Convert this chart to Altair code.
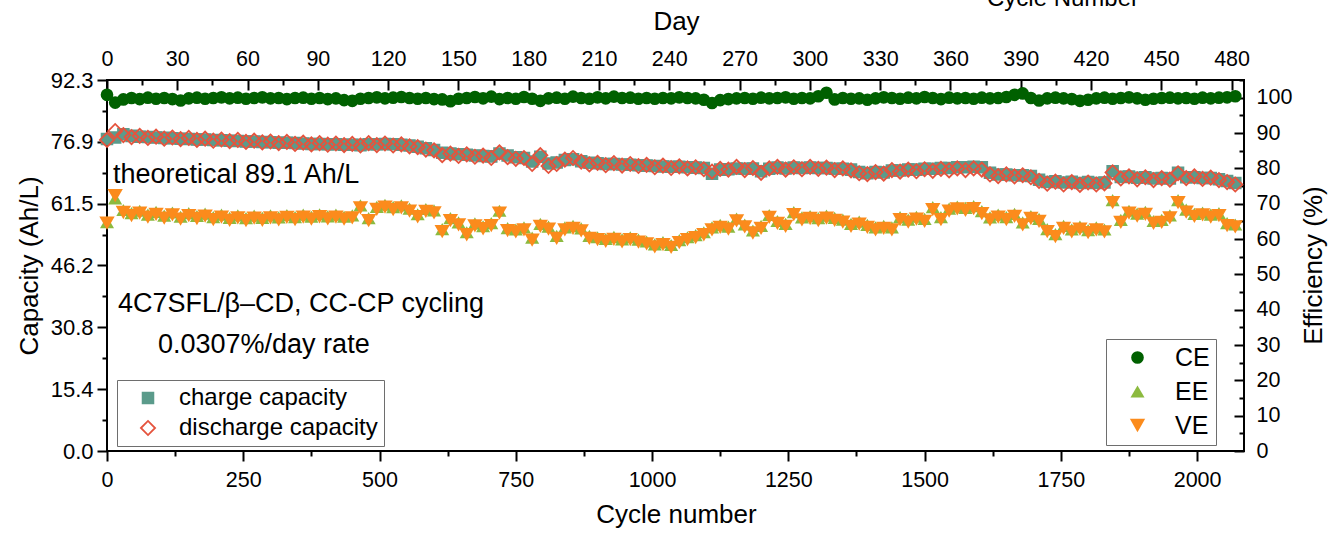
import altair as alt
import pandas as pd

# ---------------- data ----------------
cycles = list(range(0, 2081, 15))

charge_capacity = [
    77.6, 78.0, 78.8, 78.4, 78.2, 78.1, 78.0, 77.9, 77.8, 77.7,
    77.6, 77.5, 77.5, 77.4, 77.3, 77.2, 77.1, 77.0, 77.0, 76.9,
    76.8, 76.7, 76.7, 76.6, 76.5, 76.4, 76.4, 76.3, 76.3, 76.2,
    76.2, 76.1, 76.3, 76.3, 76.4, 76.3, 76.2, 76.0, 75.7, 75.3,
    74.9, 74.2, 74.0, 73.8, 73.7, 73.5, 73.4, 73.3, 74.0, 73.5,
    73.1, 72.9, 72.0, 73.2, 71.5, 71.8, 72.4, 72.6, 72.1, 71.7,
    71.6, 71.4, 71.4, 71.3, 71.2, 71.1, 71.0, 70.9, 70.8, 70.7,
    70.7, 70.6, 70.5, 70.4, 69.0, 70.0, 70.1, 70.3, 70.2, 70.3,
    69.6, 70.2, 70.5, 70.3, 70.5, 70.4, 70.5, 70.4, 70.4, 70.2,
    70.2, 70.0, 69.4, 69.1, 69.4, 69.3, 69.8, 69.8, 70.0, 70.0,
    70.2, 70.2, 70.4, 70.4, 70.6, 70.6, 70.7, 70.6, 69.2, 68.8,
    68.8, 68.6, 68.6, 68.4, 67.5, 66.9, 67.1, 66.8, 67.0, 66.7,
    66.9, 66.7, 66.8, 69.6, 68.2, 68.3, 68.0, 68.1, 67.8, 67.9,
    67.8, 69.2, 68.1, 68.1, 67.9, 67.9, 67.6, 67.2, 66.7]

discharge_capacity = [
    77.4, 79.6, 78.6, 78.1, 78.4, 77.9, 78.2, 77.7, 78.0, 77.6,
    77.9, 77.4, 77.7, 77.2, 77.5, 77.1, 77.4, 76.9, 77.2, 76.8,
    77.0, 76.6, 76.9, 76.4, 76.7, 76.3, 76.6, 76.2, 76.5, 76.1,
    76.4, 76.0, 76.6, 76.1, 76.5, 76.0, 76.3, 75.8, 75.6, 75.0,
    74.8, 73.6, 74.0, 73.4, 73.8, 73.2, 73.5, 72.9, 74.3, 73.1,
    72.7, 72.9, 71.4, 73.6, 70.9, 71.4, 72.5, 72.9, 72.0, 71.3,
    71.7, 71.1, 71.6, 71.0, 71.4, 70.9, 71.2, 70.6, 71.0, 70.4,
    70.8, 70.3, 70.6, 70.1, 69.5, 70.2, 70.0, 70.7, 69.9, 70.4,
    69.2, 70.3, 70.7, 70.0, 70.6, 70.1, 70.7, 70.2, 70.5, 69.9,
    70.3, 69.8, 69.1, 68.9, 69.4, 69.0, 69.9, 69.5, 70.0, 69.6,
    70.1, 69.7, 70.2, 69.8, 70.3, 69.9, 70.3, 70.0, 68.8, 68.4,
    68.8, 68.3, 68.6, 68.1, 67.2, 66.5, 67.0, 66.3, 66.9, 66.2,
    66.8, 66.3, 66.6, 69.3, 67.8, 68.3, 67.6, 68.1, 67.4, 67.9,
    67.5, 69.1, 67.9, 68.3, 67.7, 68.0, 67.4, 66.9, 66.3]

ce = [
    100.8, 98.6, 99.5, 99.9, 99.6, 100.0, 99.7, 99.9, 99.6, 99.2,
    99.8, 100.0, 99.7, 99.9, 100.1, 99.8, 100.0, 99.7, 99.9, 100.1,
    99.8, 99.9, 99.6, 99.9, 100.0, 99.7, 99.9, 99.6, 99.8, 99.3,
    99.1, 99.7, 99.9, 100.1, 99.8, 100.0, 100.2, 99.9, 99.7, 99.9,
    99.6, 99.5, 99.0, 99.7, 99.9, 100.2, 99.8, 100.3, 99.6, 99.9,
    99.7, 100.2, 99.7, 99.1, 99.8, 100.0, 99.7, 100.3, 99.9, 99.7,
    100.1, 99.8, 100.3, 99.9, 100.0, 99.7, 99.9, 99.7, 99.9, 99.8,
    100.1, 99.9, 99.8, 99.4, 98.5, 99.3, 99.6, 99.8, 99.9, 99.7,
    100.0, 99.8, 99.9, 100.1, 99.7, 99.9, 99.8, 100.4, 101.4, 99.5,
    99.9, 99.7, 99.8, 99.4, 99.8, 100.1, 99.9, 99.7, 100.0, 99.8,
    100.2, 99.9, 99.6, 100.0, 99.8, 99.9, 99.7, 100.0, 99.8, 99.9,
    100.2, 100.8, 101.2, 99.9, 99.2, 99.8, 100.0, 99.8, 99.6, 99.1,
    99.4, 99.8, 100.0, 99.7, 99.9, 100.1, 99.8, 99.4, 99.7, 99.9,
    100.0, 99.8, 99.9, 99.7, 100.0, 99.8, 100.0, 100.1, 100.4]

ee = [
    64.8, 71.5, 68.2, 67.3, 68.0, 66.9, 67.7, 66.6, 67.5, 66.3,
    67.3, 66.5, 67.2, 66.2, 66.9, 66.0, 66.7, 65.9, 66.6, 66.0,
    66.7, 66.1, 66.8, 66.2, 66.9, 66.3, 67.0, 66.4, 66.9, 66.3,
    66.7, 69.5, 65.9, 69.1, 69.7, 69.0, 69.5, 68.6, 67.0, 68.5,
    68.1, 62.8, 65.9, 64.7, 61.9, 64.4, 63.6, 64.5, 68.0, 63.1,
    62.7, 63.3, 60.4, 64.3, 63.5, 60.9, 63.3, 63.7, 63.0, 60.9,
    60.5, 60.0, 60.6, 59.9, 60.5, 59.8, 59.3, 58.5, 59.1, 58.3,
    59.7, 60.5, 61.1, 61.9, 63.3, 64.0, 63.5, 65.8, 64.1, 62.4,
    63.7, 66.8, 65.1, 64.3, 67.6, 66.1, 66.5, 65.9, 66.6, 66.0,
    65.5, 64.3, 64.9, 64.0, 63.3, 63.7, 63.3, 66.2, 65.5, 66.3,
    65.7, 69.0, 66.2, 68.6, 69.2, 68.8, 69.3, 67.9, 66.1, 66.9,
    66.2, 67.1, 64.7, 66.5, 65.7, 62.8, 61.4, 63.7, 62.7, 63.5,
    62.5, 63.3, 62.7, 71.0, 65.4, 68.0, 67.2, 67.7, 65.1, 65.4,
    66.7, 71.0, 68.3, 67.1, 67.5, 66.9, 67.3, 64.5, 64.1]

ve = [
    64.5, 72.3, 67.5, 66.6, 67.3, 66.2, 67.0, 65.9, 66.8, 65.6,
    66.6, 65.8, 66.5, 65.5, 66.2, 65.3, 66.0, 65.2, 65.9, 65.3,
    66.0, 65.4, 66.1, 65.5, 66.2, 65.6, 66.3, 65.7, 66.2, 65.6,
    66.0, 68.8, 65.2, 68.4, 69.0, 68.3, 68.8, 67.9, 66.3, 67.8,
    67.4, 62.1, 65.2, 64.0, 61.2, 63.7, 62.9, 63.8, 67.3, 62.4,
    62.0, 62.6, 59.7, 63.6, 62.8, 60.2, 62.6, 63.0, 62.3, 60.2,
    59.8, 59.3, 59.9, 59.2, 59.8, 59.1, 58.6, 57.8, 58.4, 57.6,
    59.0, 59.8, 60.4, 61.2, 62.6, 63.3, 62.8, 65.1, 63.4, 61.7,
    63.0, 66.1, 64.4, 63.6, 66.9, 65.4, 65.8, 65.2, 65.9, 65.3,
    64.8, 63.6, 64.2, 63.3, 62.6, 63.0, 62.6, 65.5, 64.8, 65.6,
    65.0, 68.3, 65.5, 67.9, 68.5, 68.1, 68.6, 67.2, 65.4, 66.2,
    65.5, 66.4, 64.0, 65.8, 65.0, 62.1, 60.7, 63.0, 62.0, 62.8,
    61.8, 62.6, 62.0, 70.3, 64.7, 67.3, 66.5, 67.0, 64.4, 64.7,
    66.0, 70.3, 67.6, 66.4, 66.8, 66.2, 66.6, 63.8, 63.4]

for series in (charge_capacity, discharge_capacity, ce, ee, ve):
    assert len(series) == len(cycles), (len(series), len(cycles))

cap_series = ["charge capacity", "discharge capacity"]
eff_series = ["CE", "EE", "VE"]

cycle_ticks = [0, 250, 500, 750, 1000, 1250, 1500, 1750, 2000]
cycle_minor = [125, 375, 625, 875, 1125, 1375, 1625, 1875]
cap_ticks = [0.0, 15.4, 30.8, 46.2, 61.5, 76.9, 92.3]
cap_minor = [7.7, 23.1, 38.5, 53.8, 69.2, 84.6]
day_ticks = list(range(0, 481, 30))
day_minor = list(range(15, 481, 30))
eff_ticks = list(range(0, 101, 10))
eff_minor = list(range(5, 106, 10))

# ---------------- layout / style ----------------
W, H = 1137, 371
FONT = "Liberation Sans"
TEAL, RED = "#5B9B8B", "#E5533D"
GREEN, LIME, ORANGE = "#006000", "#8CBA3F", "#FB8B1C"

x_cyc = alt.Scale(domain=[0, 2086], nice=False, zero=False)
y_cap = alt.Scale(domain=[0, 92.3], nice=False, zero=False)
y_eff = alt.Scale(domain=[0, 105], nice=False, zero=False)
x_day = alt.Scale(domain=[0, 485.3], nice=False, zero=False)

n = len(cycles)
cap_df = pd.DataFrame({
    "cycle": cycles * 2,
    "value": charge_capacity + discharge_capacity,
    "series": [cap_series[0]] * n + [cap_series[1]] * n,
})
eff_df = pd.DataFrame({
    "cycle": cycles * 3,
    "value": ce + ee + ve,
    "series": [eff_series[0]] * n + [eff_series[1]] * n + [eff_series[2]] * n,
})

common_lbl = dict(labelFont=FONT, labelColor="black", labelFontSize=21.5,
                  labelFlush=False, labelOverlap=False, grid=False,
                  domain=False, ticks=False, tickSize=0)
title_kw = dict(titleFont=FONT, titleFontSize=26, titleFontWeight="normal",
                titleColor="black", titleBaseline="alphabetic", titleAlign="center")

cap_leg = alt.Legend(orient="none", legendX=10, legendY=300, title=None,
                     labelFont=FONT, labelFontSize=24, labelColor="black", labelLimit=400,
                     padding=6, rowPadding=6, symbolOffset=13.0, labelOffset=19.0,
                     strokeColor="#6e6e6e", fillColor="white", symbolStrokeWidth=1.8)
eff_leg = alt.Legend(orient="none", legendX=999, legendY=259, title=None,
                     labelFont=FONT, labelFontSize=25, labelColor="black", labelLimit=400,
                     padding=6, rowPadding=8, symbolOffset=13.0, labelOffset=25.0,
                     strokeColor="#6e6e6e", fillColor="white", symbolStrokeWidth=0)

cap_layer = alt.Chart(cap_df).mark_point(filled=True, opacity=1, strokeWidth=1.8).encode(
    x=alt.X("cycle:Q", scale=x_cyc, axis=alt.Axis(
        orient="bottom", values=cycle_ticks, format="d", labelPadding=35,
        labelBaseline="alphabetic", title="Cycle number", titleX=569, titleY=71,
        **common_lbl, **title_kw)),
    y=alt.Y("value:Q", scale=y_cap, axis=alt.Axis(
        orient="left", values=cap_ticks, format=".1f", labelPadding=14, labelFontSize=22,
        title="Capacity (Ah/L)", titleX=-70, titleY=185.5, titleAngle=270,
        **{k: v for k, v in common_lbl.items() if k != "labelFontSize"}, **title_kw)),
    shape=alt.Shape("series:N", scale=alt.Scale(domain=cap_series, range=["square", "diamond"]), legend=cap_leg),
    fill=alt.Fill("series:N", scale=alt.Scale(domain=cap_series, range=[TEAL, "transparent"]), legend=cap_leg),
    stroke=alt.Stroke("series:N", scale=alt.Scale(domain=cap_series, range=[TEAL, RED]), legend=cap_leg),
    size=alt.Size("series:N", scale=alt.Scale(domain=cap_series, range=[115, 200]), legend=cap_leg),
)

eff_layer = alt.Chart(eff_df).mark_point(filled=True, opacity=1, strokeWidth=0).encode(
    x=alt.X("cycle:Q", scale=x_cyc, axis=None),
    y=alt.Y("value:Q", scale=y_eff, axis=alt.Axis(
        orient="right", values=eff_ticks, labelPadding=12,
        title="Efficiency (%)", titleX=77.7, titleY=185, titleAngle=270,
        **common_lbl, **title_kw)),
    shape=alt.Shape("series:N", scale=alt.Scale(domain=eff_series, range=["circle", "triangle-up", "triangle-down"]), legend=eff_leg),
    fill=alt.Fill("series:N", scale=alt.Scale(domain=eff_series, range=[GREEN, LIME, ORANGE]), legend=eff_leg),
    size=alt.Size("series:N", scale=alt.Scale(domain=eff_series, range=[160, 235, 235]), legend=eff_leg),
)

day_layer = alt.Chart(pd.DataFrame({"v": [0]})).mark_point(opacity=0).encode(
    x=alt.X("v:Q", scale=x_day, axis=alt.Axis(
        orient="top", values=day_ticks, format="d", labelPadding=15, labelBaseline="alphabetic",
        title="Day", titleX=569, titleY=-50.7, **common_lbl, **title_kw)),
)


def tick_layer(channel, scale, values, orient, size, offset=0):
    ax = alt.Axis(orient=orient, values=values, labels=False, domain=False, grid=False,
                  ticks=True, tickSize=size, tickWidth=2, tickColor="black",
                  title=None, offset=offset)
    base = alt.Chart(pd.DataFrame({"v": [values[0]]})).mark_point(opacity=0)
    if channel == "x":
        return base.encode(x=alt.X("v:Q", scale=scale, axis=ax))
    return base.encode(y=alt.Y("v:Q", scale=scale, axis=ax))


ticks = [
    tick_layer("x", x_cyc, cycle_ticks, "bottom", 10),
    tick_layer("x", x_cyc, cycle_minor, "bottom", 5),
    tick_layer("y", y_cap, cap_ticks, "left", 10),
    tick_layer("y", y_cap, cap_minor, "left", 5),
    tick_layer("x", x_day, day_ticks, "bottom", 10, offset=-H),
    tick_layer("x", x_day, day_minor, "bottom", 5, offset=-H),
    tick_layer("y", y_eff, eff_ticks, "left", 10, offset=-W),
    tick_layer("y", y_eff, eff_minor, "left", 5, offset=-W),
]


def note(text, x, y, size=27, align="left"):
    return alt.Chart(pd.DataFrame({"a": [0]})).mark_text(
        text=text, align=align, baseline="alphabetic", font=FONT,
        fontSize=size, color="black").encode(x=alt.value(x), y=alt.value(y))


notes = [
    note("theoretical 89.1 Ah/L", 6, 102.7),
    note("4C7SFL/β–CD, CC-CP cycling", 11, 231.7),
    note("0.0307%/day rate", 51, 273.3),
    note("Cycle Number", 956, -74, size=24, align="center"),
]

chart = alt.layer(cap_layer, eff_layer, day_layer, *ticks, *notes).resolve_scale(
    x="independent", y="independent", shape="independent", fill="independent",
    size="independent", stroke="independent",
).properties(
    width=W, height=H,
    autosize=alt.AutoSizeParams(type="none"),
    padding={"left": 107, "top": 80, "right": 86, "bottom": 82},
    background="white",
).configure_view(stroke="black", strokeWidth=2)

chart.save("out.html", embed_options={"renderer": "svg", "actions": False})
